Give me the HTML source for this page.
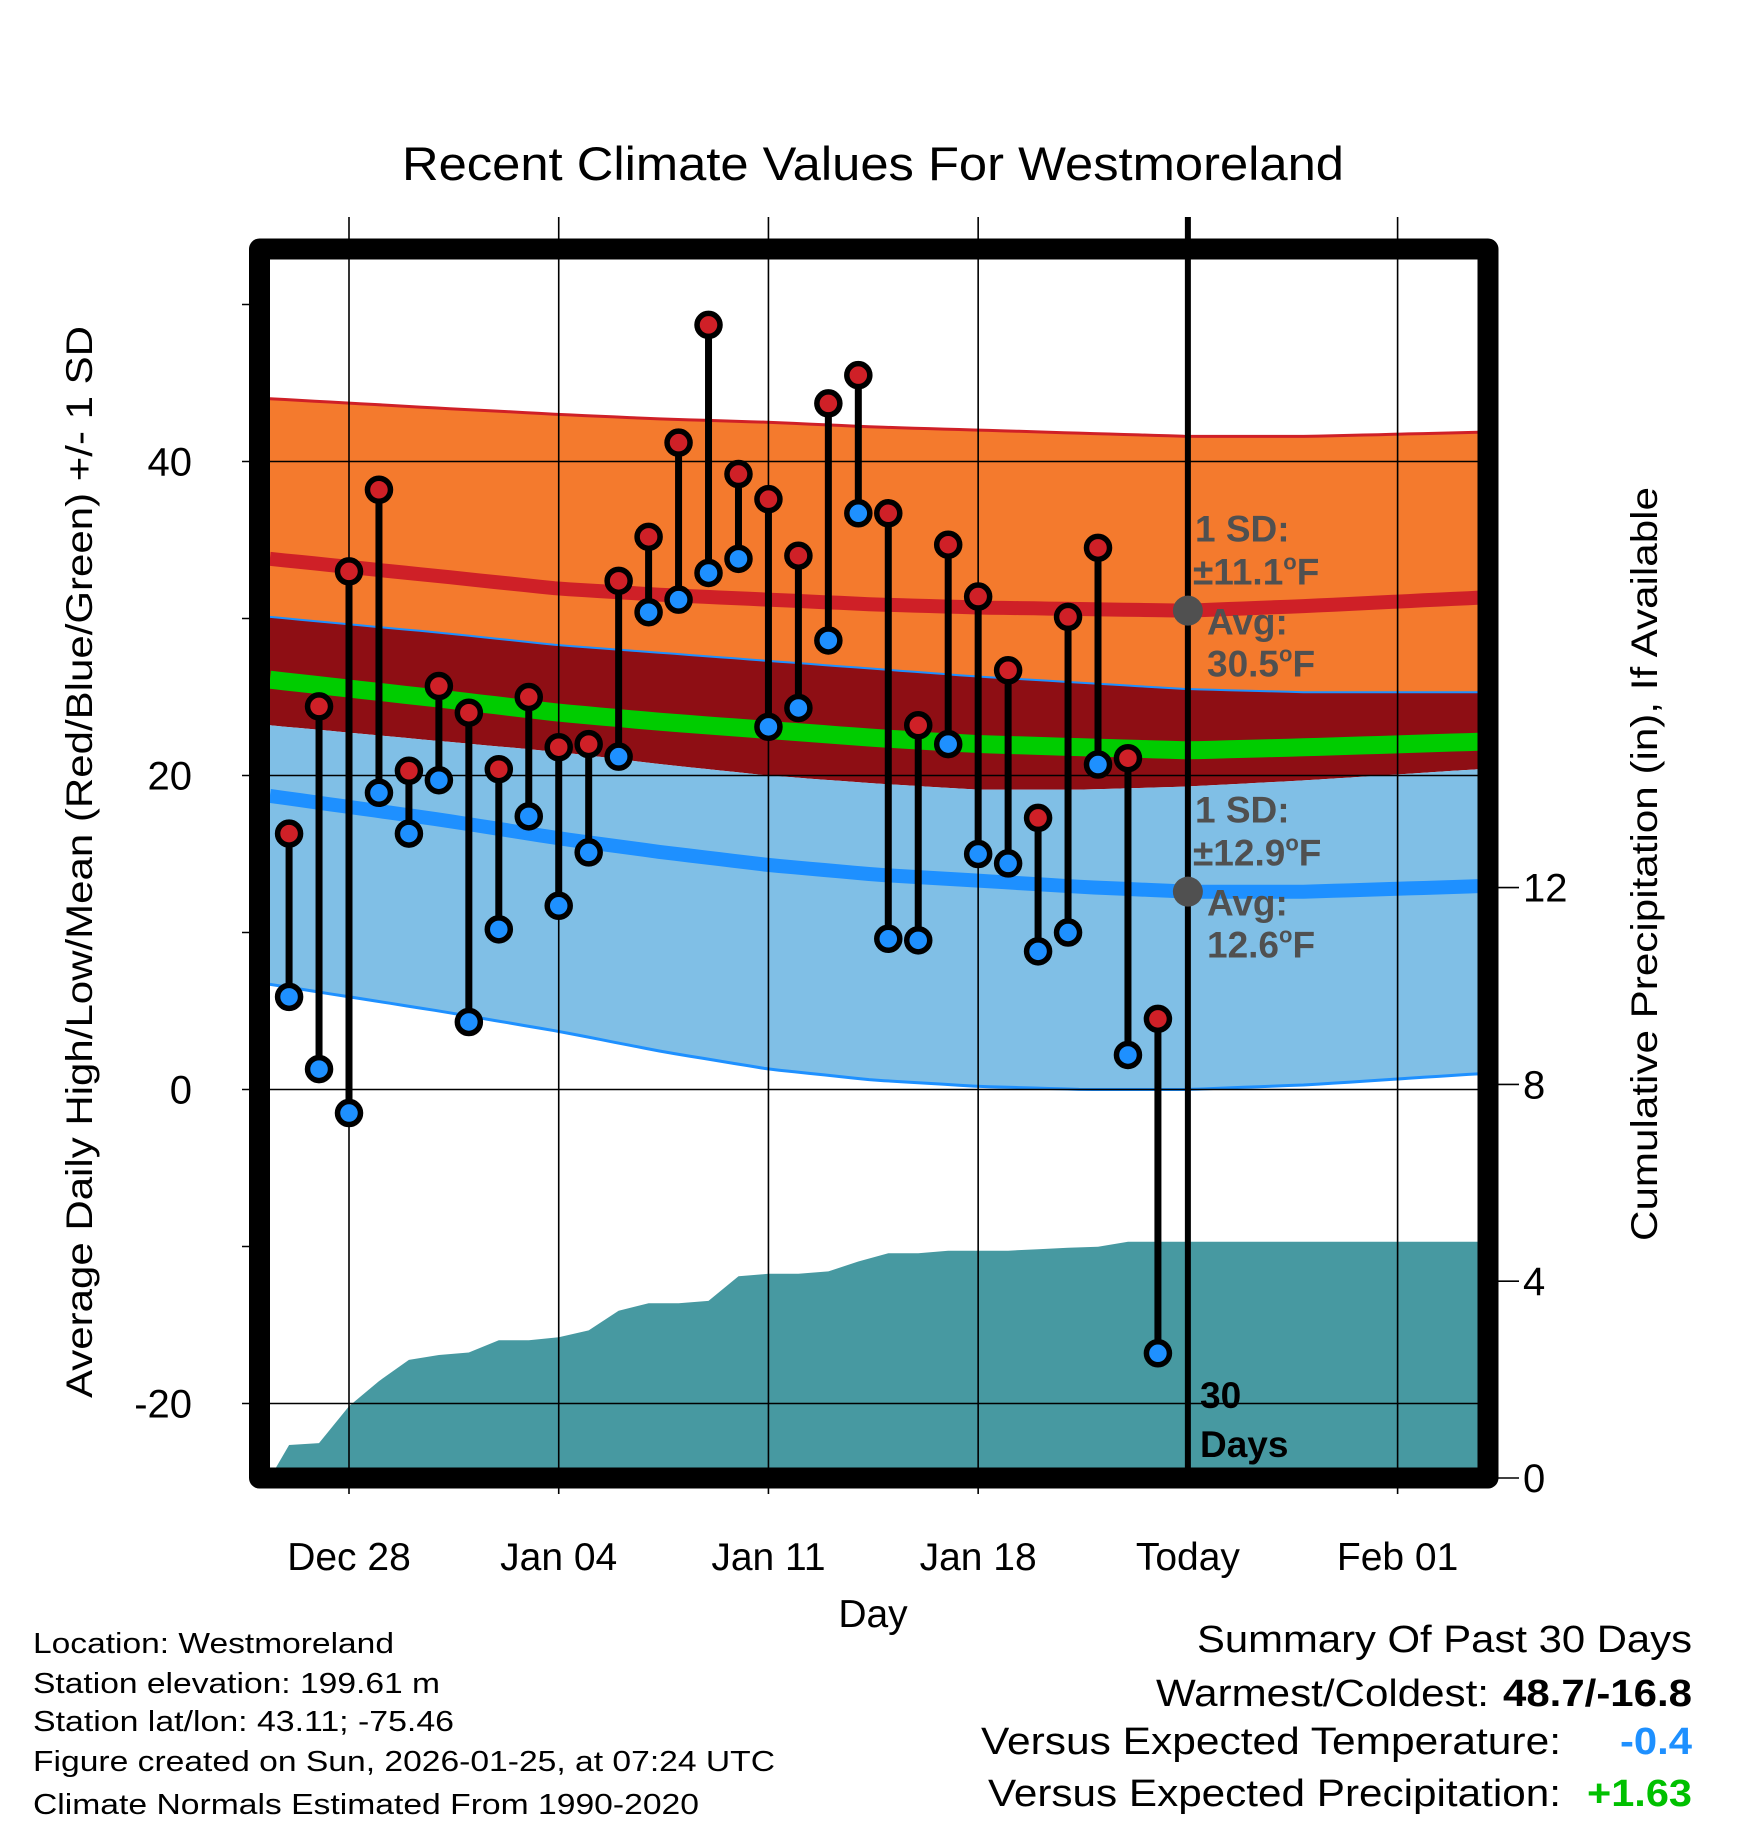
<!DOCTYPE html>
<html><head><meta charset="utf-8"><style>
html,body{margin:0;padding:0;background:#fff}
svg{display:block;font-family:"Liberation Sans",sans-serif}
</style></head><body>
<svg id="chart" xmlns="http://www.w3.org/2000/svg" width="1748" height="1828" viewBox="0 0 1748 1828">
<defs><clipPath id="plotclip"><rect x="270" y="259" width="1208" height="1209"/></clipPath></defs>
<g id="bands" clip-path="url(#plotclip)"></g>
<g id="precip" clip-path="url(#plotclip)"></g>
<g id="grid"></g>
<g id="ticks"></g>
<g id="annot"></g>
<g id="marks"></g>
<rect x="259.5" y="249" width="1228.5" height="1229" fill="none" stroke="#000" stroke-width="21" stroke-linejoin="round"/>
<text x="873" y="180" font-size="47" text-anchor="middle" textLength="942" lengthAdjust="spacingAndGlyphs">Recent Climate Values For Westmoreland</text>
<text x="873" y="1627" font-size="39" text-anchor="middle">Day</text>
<text transform="translate(92,862) rotate(-90)" font-size="37" text-anchor="middle" textLength="1072" lengthAdjust="spacingAndGlyphs">Average Daily High/Low/Mean (Red/Blue/Green) +/- 1 SD</text>
<text transform="translate(1657,864) rotate(-90)" font-size="37" text-anchor="middle" textLength="754" lengthAdjust="spacingAndGlyphs">Cumulative Precipitation (in), If Available</text>
<g font-size="29">
<text x="33" y="1653" textLength="361" lengthAdjust="spacingAndGlyphs">Location: Westmoreland</text>
<text x="33" y="1693" textLength="407" lengthAdjust="spacingAndGlyphs">Station elevation: 199.61 m</text>
<text x="33" y="1731" textLength="421" lengthAdjust="spacingAndGlyphs">Station lat/lon: 43.11; -75.46</text>
<text x="33" y="1771" textLength="742" lengthAdjust="spacingAndGlyphs">Figure created on Sun, 2026-01-25, at 07:24 UTC</text>
<text x="33" y="1814" textLength="666" lengthAdjust="spacingAndGlyphs">Climate Normals Estimated From 1990-2020</text>
</g>
<g font-size="38">
<text x="1197" y="1652" textLength="495" lengthAdjust="spacingAndGlyphs">Summary Of Past 30 Days</text>
<text x="1156" y="1706" textLength="333" lengthAdjust="spacingAndGlyphs">Warmest/Coldest:</text>
<text x="1503" y="1706" font-weight="bold" textLength="189" lengthAdjust="spacingAndGlyphs">48.7/-16.8</text>
<text x="981" y="1754" textLength="580" lengthAdjust="spacingAndGlyphs">Versus Expected Temperature:</text>
<text x="1620" y="1754" font-weight="bold" fill="#1E90FF" textLength="72" lengthAdjust="spacingAndGlyphs">-0.4</text>
<text x="988" y="1806" textLength="573" lengthAdjust="spacingAndGlyphs">Versus Expected Precipitation:</text>
<text x="1587" y="1806" font-weight="bold" fill="#00C000" textLength="105" lengthAdjust="spacingAndGlyphs">+1.63</text>
</g>
</svg>
<script>
// ---- data ----
const dayLabels = ["Dec 26","Dec 27","Dec 28","Dec 29","Dec 30","Dec 31","Jan 01","Jan 02","Jan 03","Jan 04","Jan 05","Jan 06","Jan 07","Jan 08","Jan 09","Jan 10","Jan 11","Jan 12","Jan 13","Jan 14","Jan 15","Jan 16","Jan 17","Jan 18","Jan 19","Jan 20","Jan 21","Jan 22","Jan 23","Jan 24"];
const highs = [16.3,24.4,33.0,38.2,20.3,25.7,24.0,20.4,25.0,21.8,22.0,32.4,35.2,41.2,48.7,39.2,37.6,34.0,43.7,45.5,36.7,23.2,34.7,31.4,26.7,17.3,30.1,34.5,21.1,4.5];
const lows = [5.9,1.3,-1.5,18.9,16.3,19.7,4.3,10.2,17.4,11.7,15.1,21.2,30.4,31.2,32.9,33.8,23.1,24.3,28.6,36.7,9.6,9.5,22.0,15.0,14.4,8.8,10.0,20.7,2.2,-16.8];
const precip = [0.67,0.71,1.46,1.97,2.4,2.5,2.55,2.8,2.8,2.86,3.0,3.4,3.55,3.55,3.6,4.1,4.15,4.15,4.2,4.4,4.57,4.57,4.62,4.62,4.62,4.65,4.68,4.7,4.8,4.8];
const normDays = [-2.64,3,7,10.5,14,17.5,21,24.5,28,32,38.5]; // days after Dec 28
const hiPlus = [44.0,43.4,43.0,42.7,42.5,42.2,42.0,41.8,41.6,41.6,41.9];
const hiMean = [33.8,32.7,31.9,31.5,31.2,30.9,30.7,30.6,30.5,30.8,31.4];
const hiMinus = [30.1,29.1,28.3,27.8,27.3,26.8,26.3,25.9,25.5,25.3,25.3];
const avgMean = [26.1,24.9,24.0,23.4,22.9,22.4,22.0,21.8,21.6,21.8,22.2];
const loPlus = [23.2,22.2,21.5,20.7,20.0,19.5,19.1,19.1,19.3,19.7,20.5];
const loMean = [18.7,17.2,16.0,15.1,14.3,13.7,13.3,12.9,12.6,12.6,13.0];
const loMinus = [6.7,5.0,3.7,2.4,1.3,0.6,0.2,0.0,0.0,0.3,1.1];
const xTickLabels = ["Dec 28","Jan 04","Jan 11","Jan 18","Today","Feb 01"];
const xTickDays = [0,7,14,21,28,35];
const yTicks = [-20,0,20,40];
const yMinor = [-10,10,30,50];
const y2Ticks = [0,4,8,12];

// ---- scales ----
const X = d => 349 + d*29.96;
const Y = t => 1089.5 - t*15.7;
const P = p => 1478 - p*49.2;
const NS = "http://www.w3.org/2000/svg";
function mk(tag, parent, attrs){const e=document.createElementNS(NS,tag);for(const k in attrs)e.setAttribute(k,attrs[k]);parent.appendChild(e);return e;}
const g = id => document.getElementById(id);

function dense(arr){
  const pts=[];
  for(let d=normDays[0]; d<=normDays[normDays.length-1]+0.01; d+=0.5){
    let i=0; while(i<normDays.length-2 && d>normDays[i+1]) i++;
    const t=(d-normDays[i])/(normDays[i+1]-normDays[i]);
    pts.push([X(d), Y(arr[i]+(arr[i+1]-arr[i])*t)]);
  }
  return pts;
}
const lineStr = pts => pts.map(p=>p[0].toFixed(1)+","+p[1].toFixed(1)).join(" ");
function band(a,b,fill,name){
  const p1=dense(a), p2=dense(b).reverse();
  const el=mk("polygon",g("bands"),{points:lineStr(p1.concat(p2)),fill:fill});
  
  
}
function line(a,color,w,name){
  const el=mk("polyline",g("bands"),{points:lineStr(dense(a)),fill:"none",stroke:color,"stroke-width":w});
  
  
}
band(hiPlus,hiMinus,"#F47A2D","high-sd-band");
band(hiMinus,loPlus,"#8E0E14","overlap-band");
band(loPlus,loMinus,"#80BFE6","low-sd-band");
line(hiPlus,"#CF2027",3,"high-plus-sd-line");
line(hiMinus,"#1E90FF",2,"high-minus-sd-line");
line(loMinus,"#1E90FF",3,"low-minus-sd-line");
line(hiMean,"#CF2027",14,"mean-high-line");
line(avgMean,"#00CC00",18,"mean-line");
line(loMean,"#1E90FF",14,"mean-low-line");

// precipitation
{
  let pts=[[X(-2.64),P(0)]];
  precip.forEach((v,i)=>pts.push([X(i-2),P(v)]));
  pts.push([X(38.5),P(precip[precip.length-1])]);
  pts.push([X(38.5),P(0)]);
  const el=mk("polygon",g("precip"),{points:lineStr(pts),fill:"#4799A1"});
  
  
}

// grid & ticks
xTickDays.forEach((d,i)=>{
  const x=X(d);
  const isToday = xTickLabels[i]==="Today";
  const l=mk("line",g("grid"),{x1:x,x2:x,y1:217,y2:isToday?1468:1494,stroke:"#000","stroke-width":isToday?6:1.6});
  
  
  const t=mk("text",g("ticks"),{x:x,y:1570,"font-size":39,"text-anchor":"middle"});
  t.textContent=xTickLabels[i];
  
  
});
yTicks.forEach(v=>{
  const y=Y(v);
  const l=mk("line",g("grid"),{x1:242,x2:1478,y1:y,y2:y,stroke:"#000","stroke-width":1.6});
  
  
  const t=mk("text",g("ticks"),{x:192,y:y+14,"font-size":40,"text-anchor":"end"});
  t.textContent=v;
  
  
});
yMinor.forEach(v=>{
  const y=Y(v);
  const l=mk("line",g("ticks"),{x1:242,x2:259,y1:y,y2:y,stroke:"#000","stroke-width":1.6});
  
  
});
y2Ticks.forEach(v=>{
  const y=P(v);
  const l=mk("line",g("ticks"),{x1:1488,x2:1519,y1:y,y2:y,stroke:"#000","stroke-width":1.6});
  
  
  const t=mk("text",g("ticks"),{x:1523,y:y+14,"font-size":40});
  t.textContent=v;
  
  
});

// annotations
function ann(x,y,txt,name){
  const t=mk("text",g("annot"),{x:x,y:y,"font-size":37,"font-weight":"bold",fill:"#505050"});
  t.innerHTML=txt;
  
  
}
const todayX=X(28);
[[hiMean[8],"±11.1","30.5","high"],[loMean[8],"±12.9","12.6","low"]].forEach(a=>{
  const y=Y(a[0]);
  ann(1195,y-69,"1 SD:",a[3]+"-sd-label");
  ann(1193,y-26,a[1]+'<tspan dy="-15" font-size="22">o</tspan><tspan dy="15">F</tspan>',a[3]+"-sd-value");
  ann(1207,y+24,"Avg:",a[3]+"-avg-label");
  ann(1207,y+66,a[2]+'<tspan dy="-15" font-size="22">o</tspan><tspan dy="15">F</tspan>',a[3]+"-avg-value");
  const c=mk("circle",g("annot"),{cx:todayX,cy:y,r:15,fill:"#505050"});
  
  
});
{
  const t1=mk("text",g("annot"),{x:1200,y:1408,"font-size":37,"font-weight":"bold"});
  t1.textContent="30";
  
  
  const t2=mk("text",g("annot"),{x:1200,y:1457,"font-size":37,"font-weight":"bold"});
  t2.textContent="Days";
  
  
}

// daily marks
highs.forEach((h,i)=>{
  const x=X(i-2), yh=Y(h), yl=Y(lows[i]);
  const s=mk("line",g("marks"),{x1:x,x2:x,y1:yh,y2:yl,stroke:"#000","stroke-width":7});
  
  
  const ch=mk("circle",g("marks"),{cx:x,cy:yh,r:11.5,fill:"#CF2027",stroke:"#000","stroke-width":5.5});
  
  
  const cl=mk("circle",g("marks"),{cx:x,cy:yl,r:11.5,fill:"#1E90FF",stroke:"#000","stroke-width":5.5});
  
  
});
</script>
</body></html>
